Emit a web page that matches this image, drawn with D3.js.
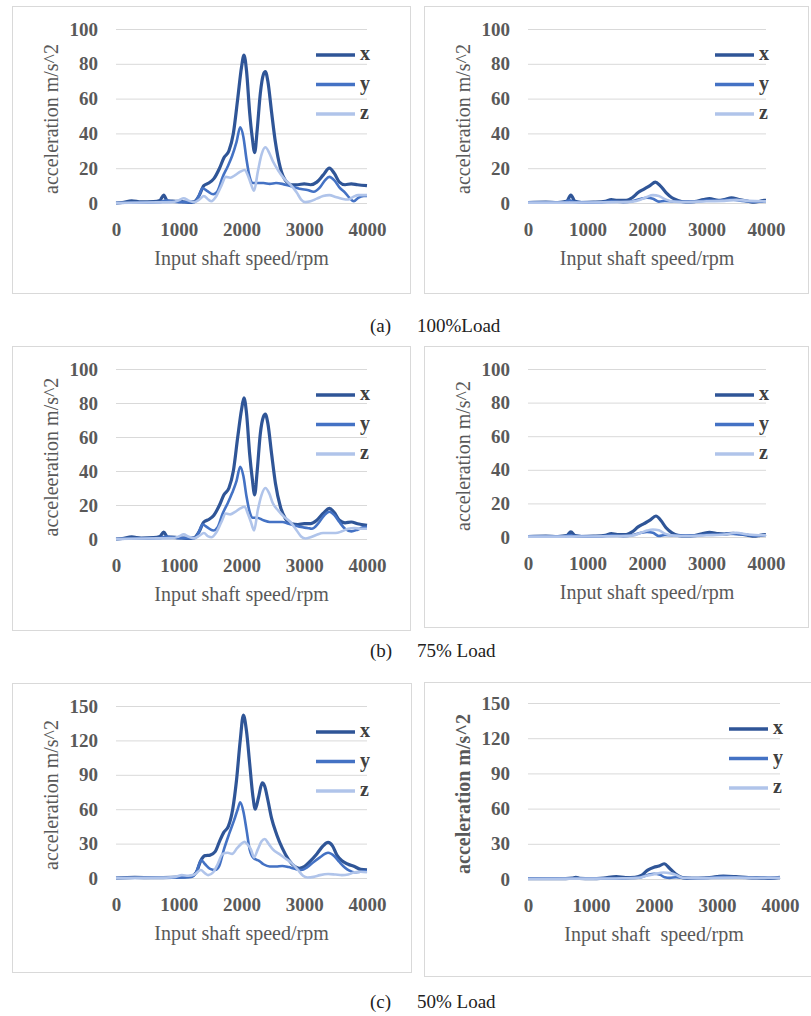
<!DOCTYPE html>
<html lang="en">
<head>
    <meta charset="UTF-8">
    <script src="https://d3js.org/d3.v7.min.js"></script>
    <style>
        body { margin: 0; background: #fff; }
        text { font-family: "Liberation Serif", "Times New Roman", serif; }
        .tick text { font-family: "Liberation Serif", serif !important; font-weight: bold; font-size: 19px; }
    </style>
</head>
<body>
    <svg id="chart" width="811" height="1016"></svg>
    <script>
        // rpm / acceleration pairs
        const series = ["x", "y", "z"];
        const xTicks = [0, 1000, 2000, 3000, 4000];
        const yTicks100 = [0, 20, 40, 60, 80, 100];
        const yTicks150 = [0, 30, 60, 90, 120, 150];

        // (a) 100% load, left
        const a_x = [[0,0],[100,0.3],[250,1.2],[400,0.6],[600,0.8],[700,1.5],[760,4.5],[820,1.2],[950,1],[1050,0.8],[1150,0.3],[1250,0.8],[1320,4],[1400,10],[1480,11.5],[1560,14],[1650,20],[1720,26],[1800,30],[1870,40],[1940,60],[2000,78],[2040,85],[2080,76],[2130,52],[2170,38],[2210,29],[2250,42],[2300,63],[2350,74],[2380,75.5],[2420,70],[2480,52],[2540,35],[2620,20],[2700,13],[2800,10.5],[2900,10.5],[3000,11],[3100,10.5],[3200,12],[3300,16],[3400,20],[3480,17],[3560,12],[3650,10.5],[3750,11],[3850,10.5],[4000,10]];
        const a_y = [[0,0],[300,0.3],[700,0.5],[800,1.5],[900,0.8],[1100,0.5],[1250,0.5],[1320,4],[1380,8.5],[1450,7],[1550,5],[1620,7],[1700,15],[1780,21],[1850,27],[1920,35],[1980,43.5],[2030,38],[2080,25],[2130,15],[2180,11.5],[2250,11.5],[2350,11.5],[2450,11],[2550,11.5],[2650,11],[2750,10],[2850,9],[2950,8],[3050,7.5],[3150,6.5],[3250,9],[3330,13],[3400,15],[3480,13],[3560,9],[3650,6],[3720,3],[3790,1],[3860,3],[3950,4],[4000,4]];
        const a_z = [[0,0],[500,0.3],[900,0.5],[1000,1.5],[1080,2.7],[1150,1.5],[1250,0.5],[1330,2],[1400,4],[1470,2],[1520,1],[1600,4],[1680,10],[1750,15],[1820,14.5],[1900,16],[1980,18],[2050,19],[2100,16],[2150,11],[2200,7],[2260,18],[2320,28],[2380,32],[2440,29],[2500,24],[2580,19],[2680,14],[2780,10.5],[2880,6],[2950,2],[3020,0.5],[3100,1],[3200,2.5],[3300,4],[3400,4.5],[3500,3.5],[3600,2.5],[3700,2],[3780,3.5],[3860,4.5],[4000,4.5]];
        // (a) right
        const ar_x = [[0,0.3],[300,0.5],[500,0.3],[650,1],[720,4.5],[790,1],[900,0.3],[1100,0.5],[1300,1],[1400,2],[1500,1.5],[1650,1.5],[1750,3],[1850,6],[1950,8],[2050,10],[2140,12],[2220,10],[2320,6],[2420,3],[2520,1.5],[2650,0.5],[2800,0.8],[2950,2],[3050,2.5],[3200,1.5],[3300,2],[3420,3],[3550,2],[3700,1],[3800,0.5],[3900,1],[3970,1.5],[4000,1.5]];
        const ar_y = [[0,0.3],[600,0.3],[700,1.5],[780,0.5],[1200,0.3],[1400,1],[1600,0.5],[1750,1],[1900,2.5],[2000,3],[2100,2.5],[2200,0.8],[2300,1.2],[2500,0.8],[2800,0.8],[3000,1.5],[3200,1.3],[3400,2],[3600,1.2],[3800,0.8],[4000,1]];
        const ar_z = [[0,0.2],[1000,0.3],[1500,0.5],[1750,0.8],[1900,2],[2000,3.5],[2100,4.5],[2200,4],[2300,2.2],[2450,0.8],[2700,0.5],[3000,1],[3300,1.2],[3500,1.8],[3700,1.2],[4000,1]];

        // (b) 75% load, left
        const b_x = [[0,0],[100,0.3],[250,1.2],[400,0.6],[600,0.8],[700,1.5],[760,4],[820,1.2],[950,1],[1050,0.6],[1150,0.3],[1250,0.8],[1320,4],[1400,10],[1480,11.5],[1560,14],[1650,20],[1720,26],[1800,30],[1870,40],[1940,60],[2000,76],[2040,83],[2080,74],[2130,50],[2170,36],[2210,26],[2250,40],[2300,62],[2350,72],[2380,73.5],[2420,68],[2480,50],[2540,33],[2620,19],[2700,12],[2800,9],[2900,8.5],[3000,9],[3100,9],[3200,11],[3300,15],[3400,18],[3480,15.5],[3560,11],[3650,9.5],[3750,10],[3850,9],[4000,8]];
        const b_y = [[0,0],[300,0.3],[700,0.5],[800,1.5],[900,0.8],[1100,0.5],[1250,0.5],[1320,4],[1380,8.5],[1450,7],[1550,5],[1620,7],[1700,15],[1780,21],[1850,27],[1920,34],[1980,42.5],[2030,37],[2080,25],[2130,16],[2180,12.5],[2250,12.5],[2350,11],[2450,10],[2550,10],[2650,10],[2750,9],[2850,8],[2950,7],[3050,6.5],[3120,6],[3220,9],[3320,14],[3400,16],[3480,14],[3560,10],[3650,6],[3750,4.5],[3850,5.5],[3950,7],[4000,7]];
        const b_z = [[0,0],[500,0.3],[900,0.5],[1000,1.5],[1080,2.7],[1150,1.5],[1250,0.5],[1330,2],[1400,3.5],[1470,1.5],[1520,1],[1600,4],[1680,10],[1750,15],[1820,14.5],[1900,16],[1980,18],[2050,19],[2100,15],[2150,10],[2200,5],[2260,17],[2320,26],[2380,30],[2440,27],[2500,21],[2580,17],[2680,13],[2780,10],[2880,5],[2950,1.5],[3020,0.3],[3100,1],[3200,2.5],[3300,3.5],[3400,3.5],[3500,3.5],[3600,4.5],[3700,6],[3800,6.5],[3900,6],[4000,6]];
        // (b) right
        const br_x = [[0,0.3],[300,0.5],[500,0.3],[650,0.8],[720,3],[790,0.8],[900,0.3],[1100,0.5],[1300,1],[1400,2],[1500,1.5],[1650,1.5],[1750,3],[1850,6],[1950,8],[2050,10],[2150,12.5],[2230,10],[2320,5.5],[2420,2.5],[2520,1],[2650,0.5],[2800,0.8],[2950,2.2],[3050,2.8],[3200,2],[3300,1.8],[3450,2.2],[3550,1.8],[3700,1],[3800,0.5],[3900,1],[4000,1.5]];
        const br_y = [[0,0.3],[600,0.3],[700,1.2],[780,0.5],[1200,0.3],[1400,1],[1600,0.5],[1750,1],[1900,2.5],[2000,3],[2100,2.5],[2200,0.6],[2300,1.2],[2500,0.8],[2800,0.8],[3000,1.5],[3200,1.5],[3400,2],[3600,1.5],[3800,0.8],[4000,1.2]];
        const br_z = [[0,0.2],[1000,0.3],[1500,0.5],[1750,0.8],[1900,2.5],[2000,3.8],[2100,4.5],[2200,4],[2300,2],[2450,0.8],[2700,0.5],[3000,1],[3300,1.5],[3500,2.5],[3700,1.5],[4000,1]];

        // (c) 50% load, left
        const c_x = [[0,0],[300,0.5],[600,0.3],[900,0.5],[1100,1],[1200,1.5],[1280,5],[1350,15],[1420,19.5],[1500,20],[1580,23],[1650,32],[1720,40],[1790,45],[1860,60],[1920,85],[1980,120],[2030,142],[2080,128],[2130,100],[2180,72],[2220,60],[2270,70],[2330,83],[2370,80],[2420,68],[2480,52],[2560,38],[2650,26],[2750,16],[2850,10],[2920,8.5],[3000,10],[3100,15],[3200,21],[3300,28],[3380,31],[3450,28],[3520,20],[3600,15],[3700,12],[3800,10],[3900,7.5],[4000,7]];
        const c_y = [[0,0],[600,0.2],[1000,0.5],[1200,1],[1280,5],[1360,15.5],[1420,12],[1500,8],[1580,7],[1640,10],[1720,25],[1800,38],[1880,50],[1940,60],[1980,66],[2030,58],[2080,42],[2130,25],[2200,17],[2280,15],[2350,12],[2450,10],[2550,10],[2650,10.5],[2750,9.5],[2850,8],[2950,7],[3050,9.5],[3150,14],[3250,18],[3380,22],[3480,19],[3560,14],[3650,9],[3720,6.5],[3800,5],[3900,5.5],[4000,6]];
        const c_z = [[0,0],[800,0.3],[950,1],[1050,2.5],[1150,2],[1250,3],[1350,7],[1420,4],[1470,2.5],[1550,5],[1620,12],[1700,21],[1780,22],[1850,21],[1930,26],[2000,30],[2050,31.5],[2100,29],[2150,25],[2200,18],[2260,25],[2320,32],[2370,34],[2430,30],[2500,25],[2600,21],[2700,17],[2800,13],[2900,7],[2980,2],[3050,0.5],[3150,1],[3250,2.5],[3380,3.5],[3500,3],[3600,2.5],[3700,3],[3800,5],[3900,5.5],[4000,5]];
        // (c) right
        const cr_x = [[0,0.3],[500,0.3],[700,0.8],[760,1.5],[820,0.5],[1000,0.3],[1200,0.8],[1400,2],[1550,1.2],[1700,1.5],[1800,3],[1900,7.5],[2000,10],[2080,11],[2160,13],[2250,9],[2350,4],[2450,1.2],[2600,0.5],[2800,0.8],[3000,2],[3100,2.5],[3300,2],[3500,1.2],[3700,0.8],[3850,0.5],[4000,1.5]];
        const cr_y = [[0,0.3],[1000,0.3],[1500,0.5],[1750,1],[1900,3.5],[2000,4.5],[2100,3.5],[2170,1.5],[2250,1],[2350,1.5],[2500,0.8],[2800,0.8],[3100,1.8],[3400,1.2],[3700,1],[4000,1]];
        const cr_z = [[0,0.2],[1000,0.3],[1500,0.6],[1750,1],[1900,3],[2000,4],[2150,5.5],[2250,5],[2350,3.5],[2450,1],[2700,0.5],[3000,1],[3300,1.2],[3700,0.8],[4000,1]];

        const colors = { x: "#2f5597", y: "#4472c4", z: "#b0c4ea" };
        const widths = { x: 3.2, y: 2.6, z: 2.6 };
        const grey = "#595959";

        const svg = d3.select("#chart");
        svg.append("rect").attr("width", 811).attr("height", 1016).attr("fill", "#fff");

        const panels = [
            { box: [12, 6, 398, 287], x0: 116, x1: 367, yb: 203, yt: 29, max: 100, ticks: yTicks100, data: [a_x, a_y, a_z], ylab: "acceleration m/s^2", xlab: "Input shaft speed/rpm" },
            { box: [424, 6, 384, 287], x0: 528, x1: 766, yb: 203, yt: 29, max: 100, ticks: yTicks100, data: [ar_x, ar_y, ar_z], ylab: "acceleration m/s^2", xlab: "Input shaft speed/rpm" },
            { box: [12, 346, 398, 284], x0: 116, x1: 367, yb: 539, yt: 369, max: 100, ticks: yTicks100, data: [b_x, b_y, b_z], ylab: "acceleeration m/s^2", xlab: "Input shaft speed/rpm" },
            { box: [424, 346, 384, 281], x0: 528, x1: 766, yb: 537, yt: 369, max: 100, ticks: yTicks100, data: [br_x, br_y, br_z], ylab: "acceleration m/s^2", xlab: "Input shaft speed/rpm" },
            { box: [12, 683, 399, 289], x0: 116, x1: 367, yb: 878, yt: 706, max: 150, ticks: yTicks150, data: [c_x, c_y, c_z], ylab: "acceleration m/s^2", xlab: "Input shaft speed/rpm" },
            { box: [424, 682, 400, 294], x0: 528, x1: 780, yb: 879, yt: 703, max: 150, ticks: yTicks150, data: [cr_x, cr_y, cr_z], ylab: "acceleration m/s^2", xlab: "Input shaft\u00a0 speed/rpm", boldY: true }
        ];

        panels.forEach(p => {
            const g = svg.append("g");
            g.append("rect")
                .attr("x", p.box[0] + 0.5).attr("y", p.box[1] + 0.5)
                .attr("width", p.box[2]).attr("height", p.box[3])
                .attr("fill", "none").attr("stroke", "#d9d9d9");

            const x = d3.scaleLinear().domain([0, 4000]).range([p.x0, p.x1]);
            const y = d3.scaleLinear().domain([0, p.max]).range([p.yb, p.yt]);

            // gridlines + y tick labels
            const ya = g.append("g")
                .attr("transform", `translate(${p.x0},0)`)
                .call(d3.axisLeft(y).tickValues(p.ticks).tickFormat(d3.format("d"))
                    .tickSize(-(p.x1 - p.x0)).tickPadding(18));
            ya.attr("font-family", null).attr("font-size", null);
            ya.select(".domain").remove();
            ya.selectAll("line").attr("stroke", "#d9d9d9");
            ya.selectAll("text").attr("fill", grey);

            const xa = g.append("g")
                .attr("transform", `translate(0,${p.yb})`)
                .call(d3.axisBottom(x).tickValues(xTicks).tickFormat(d3.format("d"))
                    .tickSize(0).tickPadding(20));
            xa.attr("font-family", null).attr("font-size", null);
            xa.select(".domain").remove();
            xa.selectAll("text").attr("fill", grey);

            // axis titles
            g.append("text")
                .attr("x", (p.x0 + p.x1) / 2).attr("y", p.yb + 62)
                .attr("text-anchor", "middle").attr("fill", grey)
                .style("font-size", "20px")
                .text(p.xlab);
            g.append("text")
                .attr("transform", `translate(${p.x0 - 58},${(p.yb + p.yt) / 2 + 3}) rotate(-90)`)
                .attr("text-anchor", "middle").attr("fill", grey)
                .style("font-size", "20px")
                .style("font-weight", p.boldY ? "bold" : "normal")
                .text(p.ylab);

            // lines
            const line = d3.line()
                .x(d => x(d[0])).y(d => y(d[1]))
                .curve(d3.curveMonotoneX);
            series.forEach((s, i) => {
                g.append("path")
                    .datum(p.data[i])
                    .attr("d", line)
                    .attr("fill", "none")
                    .attr("stroke", colors[s])
                    .attr("stroke-width", widths[s])
                    .attr("stroke-linejoin", "round");
            });

            // legend
            series.forEach((s, i) => {
                const ly = p.yt + 26 + i * 29.5;
                g.append("line")
                    .attr("x1", p.x1 - 51).attr("x2", p.x1 - 12)
                    .attr("y1", ly).attr("y2", ly)
                    .attr("stroke", colors[s]).attr("stroke-width", 3.5);
                g.append("text")
                    .attr("x", p.x1 - 7).attr("y", ly + 5)
                    .attr("fill", "#404040")
                    .style("font-size", "20px").style("font-weight", "bold")
                    .text(s);
            });
        });

        // captions
        const captions = [["(a)", "100%Load", 332], ["(b)", "75% Load", 657], ["(c)", "50% Load", 1008]];
        captions.forEach(c => {
            svg.append("text").attr("x", 370).attr("y", c[2])
                .attr("fill", "#222").style("font-size", "19px").text(c[0]);
            svg.append("text").attr("x", 417).attr("y", c[2])
                .attr("fill", "#222").style("font-size", "19px").text(c[1]);
        });
    </script>
</body>
</html>
